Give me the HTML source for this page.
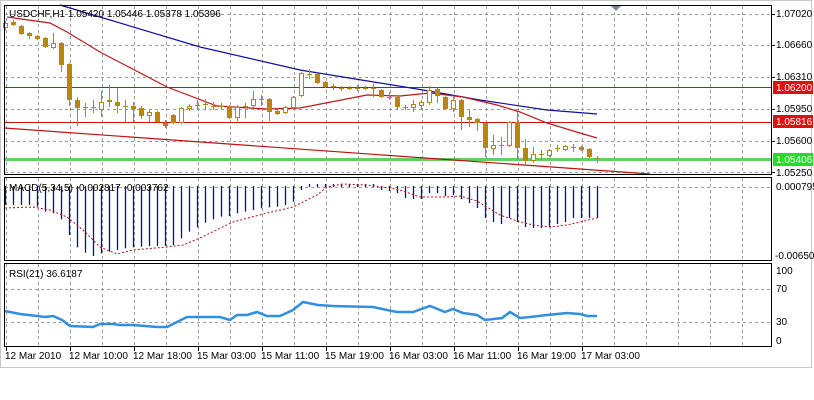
<!DOCTYPE html>
<html><head><meta charset="utf-8"><style>
html,body{margin:0;padding:0;background:#fff;width:814px;height:400px;overflow:hidden}
svg{display:block}
text{font-family:"Liberation Sans",sans-serif;font-size:10px;fill:#000}
</style></head><body>
<svg id="s" width="814" height="400" viewBox="0 0 814 400" xmlns="http://www.w3.org/2000/svg">
<rect x="0" y="0" width="814" height="400" fill="#fff"/>
<rect x="0.5" y="0.5" width="811" height="367" fill="#fff" stroke="#c8c8c8"/>
<g id="grid" stroke="#9a9a9a" stroke-dasharray="3,3" stroke-width="1"></g>
<!-- horizontal levels -->
<line x1="4" y1="87.5" x2="772" y2="87.5" stroke="#d01010"/>
<line x1="4" y1="122.5" x2="772" y2="122.5" stroke="#d01010"/>
<line x1="4" y1="159.5" x2="772" y2="159.5" stroke="#66cc66" stroke-width="3"/>
<line x1="4" y1="128" x2="650" y2="174" stroke="#c01010" stroke-width="1.2"/>
<polyline fill="none" stroke="#1010a0" stroke-width="1.2" points="60,5 100,17 200,47 300,70 380,83 423,90 480,100 547,110 597,114"/>
<polyline fill="none" stroke="#c01818" stroke-width="1.2" points="7,17 50,23 67,32 100,52 167,87 217,106 267,109 300,108 367,95 400,96 430,93 463,97 497,105 520,112 547,123 580,133 597,138"/>
<g id="candles"></g>
<g id="macd"></g>
<polyline fill="none" stroke="#b01010" stroke-dasharray="2,2" stroke-width="1" points="5,208 33,207 50,210 67,217 83,230 100,247 117,254 133,250 167,247 183,245 200,238 233,222 267,213 293,207 317,195 327,187 343,184 367,185 390,188 400,190 420,197 447,197 460,196 477,201 487,207 500,215 517,221 533,225 550,227 567,225 580,222 597,218"/>
<polyline fill="none" stroke="#2f8fe0" stroke-width="2.5" points="5,311 20,314 37,316 45,317 53,316 62,320 70,326 93,327 100,324 113,324 120,325 133,325 157,327 167,327 173,324 187,317 220,317 230,320 237,315 247,315 257,312 267,316 280,316 293,310 303,302 318,305 333,306 373,307 387,310 397,312 413,312 430,306 445,312 453,309 463,313 477,315 485,320 502,318 510,312 520,318 530,317 547,315 567,313 580,314 587,316 597,316"/>
<!-- panel borders -->
<rect x="4.5" y="5.5" width="767" height="169" fill="none" stroke="#000"/>
<rect x="4.5" y="177.5" width="767" height="83" fill="none" stroke="#000"/>
<rect x="4.5" y="263.5" width="767" height="83" fill="none" stroke="#000"/>
<polygon points="611,6 621,6 616,11" fill="#7a8a9a"/>
<text x="9" y="17">USDCHF,H1  1.05420 1.05446 1.05378 1.05396</text>
<text x="9" y="191">MACD(5,34,5) -0.002817 -0.003762</text>
<text x="9" y="277">RSI(21) 36.6187</text>
<!-- price axis -->
<g>
<text x="776" y="17">1.07020</text>
<text x="776" y="48">1.06660</text>
<text x="776" y="80">1.06310</text>
<text x="776" y="112">1.05950</text>
<text x="776" y="144">1.05600</text>
<text x="776" y="176">1.05250</text>
<rect x="773" y="81" width="40" height="13" fill="#e01010"/>
<text x="776" y="91" style="fill:#fff">1.06200</text>
<rect x="773" y="115" width="40" height="13" fill="#e01010"/>
<text x="776" y="125" style="fill:#fff">1.05816</text>
<rect x="773" y="153" width="40" height="13" fill="#22dd22"/>
<text x="776" y="163" style="fill:#fff">1.05406</text>
<text x="776" y="190">0.000795</text>
<text x="775" y="259">-0.00650</text>
<text x="776" y="274">100</text>
<text x="776" y="292">70</text>
<text x="776" y="325">30</text>
<text x="776" y="344">0</text>
</g>
<g>
<text x="5" y="359">12 Mar 2010</text>
<text x="69" y="359">12 Mar 10:00</text>
<text x="133" y="359">12 Mar 18:00</text>
<text x="197" y="359">15 Mar 03:00</text>
<text x="261" y="359">15 Mar 11:00</text>
<text x="325" y="359">15 Mar 19:00</text>
<text x="389" y="359">16 Mar 03:00</text>
<text x="453" y="359">16 Mar 11:00</text>
<text x="517" y="359">16 Mar 19:00</text>
<text x="581" y="359">17 Mar 03:00</text>
</g>
</svg>
<script>
var NS="http://www.w3.org/2000/svg";
function el(p,t,a){var e=document.createElementNS(NS,t);for(var k in a)e.setAttribute(k,a[k]);p.appendChild(e);return e;}
var g=document.getElementById('grid');
for(var x=6;x<772;x+=32){el(g,'line',{x1:x+.5,y1:6,x2:x+.5,y2:174});el(g,'line',{x1:x+.5,y1:178,x2:x+.5,y2:260});el(g,'line',{x1:x+.5,y1:264,x2:x+.5,y2:346});}
[14,45,77,109,141,172,187,289,322].forEach(function(y){el(g,'line',{x1:5,y1:y+.5,x2:772,y2:y+.5});});
for(var x=6;x<600;x+=64){el(document.getElementById('s'),'line',{x1:x+.5,y1:347,x2:x+.5,y2:351,stroke:'#000'});}
[14,45,77,109,141,172].forEach(function(y){el(document.getElementById('s'),'line',{x1:772,y1:y+.5,x2:775,y2:y+.5,stroke:'#000'});});
// candles: [bodyTop, bodyBottom, wickTop, wickBottom, type]
var C=[[23,28,21,30,'w'],[22,25,20,26,'b'],[26,34,25,35,'b'],[33,36,32,39,'b'],[36,39,35,40,'b'],[38,47,37,48,'b'],[43,48,33,49,'w'],[43,65,42,72,'b'],[64,100,63,106,'b'],[100,108,97,126,'b'],[107,108,103,117,'d'],[107,108,100,113,'d'],[102,110,91,117,'w'],[100,102,85,107,'b'],[102,106,88,113,'b'],[106,107,100,122,'d'],[106,109,102,122,'b'],[108,116,106,119,'b'],[112,116,110,122,'w'],[112,122,111,123,'b'],[123,126,120,128,'b'],[115,123,114,124,'b'],[108,123,107,124,'w'],[106,109,104,111,'w'],[105,106,100,110,'d'],[104,106,99,110,'d'],[106,107,102,110,'d'],[106,107,103,110,'d'],[106,118,105,119,'b'],[107,118,105,121,'w'],[106,107,103,118,'d'],[99,106,91,108,'w'],[99,100,95,106,'d'],[99,112,98,121,'b'],[111,114,110,115,'b'],[107,113,106,114,'w'],[97,108,96,109,'w'],[73,96,72,97,'w'],[74,75,69,79,'d'],[74,83,73,84,'b'],[82,87,81,88,'b'],[86,87,84,90,'d'],[88,89,86,91,'d'],[88,89,86,90,'d'],[88,89,85,91,'d'],[88,89,86,90,'d'],[88,89,84,97,'d'],
[90,97,89,98,'b'],[97,98,92,100,'d'],[97,107,96,110,'b'],[107,108,105,110,'d'],[104,108,100,112,'w'],[102,106,100,110,'w'],[90,103,86,105,'w'],[89,96,87,103,'b'],[97,109,96,110,'b'],[100,109,97,112,'w'],[100,117,99,130,'b'],[117,120,110,127,'b'],[119,123,118,131,'b'],[123,148,122,157,'b'],[145,149,135,155,'w'],[145,146,137,155,'d'],[122,146,121,147,'w'],[122,148,112,160,'b'],[148,161,139,165,'b'],[154,161,147,163,'w'],[154,155,150,160,'d'],[150,156,149,157,'w'],[148,149,145,152,'d'],[146,150,145,151,'w'],[147,148,144,152,'d'],[147,150,146,151,'b'],[149,157,148,158,'b'],[158,159,156,163,'d']];
var cg=document.getElementById('candles'),col='#b8860b';
C.forEach(function(c,i){var x=5+8*i;
el(cg,'line',{x1:x+.5,y1:c[2],x2:x+.5,y2:c[3],stroke:col});
var h=Math.max(1,c[1]-c[0]);
if(c[4]=='b')el(cg,'rect',{x:x-2,y:c[0],width:5,height:h,fill:col});
else if(c[4]=='w')el(cg,'rect',{x:x-1.5,y:c[0]+.5,width:4,height:Math.max(1,h-1),fill:'#fff',stroke:col});
else el(cg,'line',{x1:x-2,y1:c[0]+.5,x2:x+3,y2:c[0]+.5,stroke:col});
});
var M=[105,105,105,105,110,125,130,148,195,232,248,258,250,245,240,235,232,230,228,228,228,225,205,185,172,158,148,140,138,130,125,120,115,112,110,105,95,60,50,50,50,50,50,50,50,50,50].map(function(v){return 170+v/3;});
M=M.concat([190,191,193,198,199,199,193,193,196,195,199,203,208,218,222,224,218,222,227,228,228,227,224,222,218,218,218,218]);
var mg=document.getElementById('macd');
M.forEach(function(b,i){var x=5+8*i+.5;var t=Math.min(186,b),bb=Math.max(187,b);if(b<=188){t=184;bb=187;}el(mg,'line',{x1:x,y1:t,x2:x,y2:bb,stroke:'#10108a','stroke-width':1.3});});
</script>
</body></html>
